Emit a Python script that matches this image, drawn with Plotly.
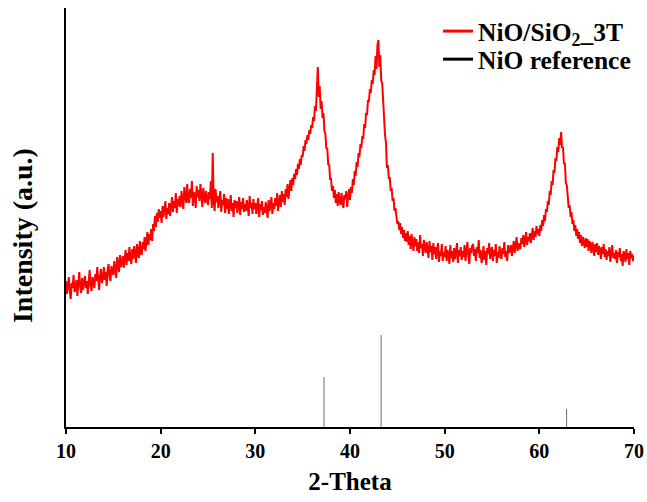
import numpy as np
import plotly.graph_objects as go

# -----------------------------
# DATA
# -----------------------------

# 2-theta grid 10.0 .. 70.0, step 0.1
two_theta = np.round(np.arange(100, 701) / 10.0, 1)

# measured pattern, arbitrary units; one row per degree (d.0 .. d.9)
intensity_rows = [
    [146, 133, 141, 150, 136, 128, 144, 139, 152, 135],  # 10
    [138, 147, 131, 143, 155, 140, 134, 149, 137, 145],  # 11
    [151, 139, 146, 133, 148, 157, 141, 136, 150, 144],  # 12
    [139, 153, 146, 160, 142, 137, 151, 158, 144, 149],  # 13
    [160, 147, 155, 141, 158, 163, 150, 146, 161, 154],  # 14
    [152, 166, 158, 149, 170, 161, 155, 172, 160, 164],  # 15
    [171, 159, 168, 177, 162, 174, 166, 180, 169, 163],  # 16
    [178, 168, 181, 170, 164, 183, 175, 169, 186, 174],  # 17
    [172, 185, 178, 190, 176, 188, 195, 182, 193, 187],  # 18
    [198, 186, 203, 196, 211, 200, 214, 205, 218, 209],  # 19
    [216, 204, 221, 210, 218, 226, 208, 219, 213, 224],  # 20
    [211, 223, 230, 215, 226, 219, 234, 214, 228, 221],  # 21
    [231, 220, 236, 226, 218, 240, 229, 224, 243, 227],  # 22
    [224, 238, 229, 246, 221, 235, 232, 219, 241, 230],  # 23
    [237, 226, 243, 228, 220, 239, 232, 224, 236, 227],  # 24
    [222, 235, 228, 246, 219, 274, 226, 216, 238, 225],  # 25
    [231, 219, 228, 236, 215, 227, 222, 233, 214, 229],  # 26
    [218, 228, 213, 225, 232, 216, 224, 210, 227, 219],  # 27
    [226, 214, 222, 230, 212, 225, 218, 229, 215, 223],  # 28
    [216, 227, 220, 211, 231, 219, 224, 213, 228, 218],  # 29
    [224, 213, 221, 229, 210, 223, 217, 226, 212, 220],  # 30
    [214, 225, 218, 209, 227, 216, 222, 230, 213, 224],  # 31
    [218, 229, 221, 234, 216, 227, 232, 220, 236, 225],  # 32
    [233, 222, 238, 230, 243, 228, 240, 247, 236, 249],  # 33
    [242, 253, 248, 258, 252, 263, 258, 268, 262, 272],  # 34
    [270, 281, 276, 287, 283, 292, 287, 297, 293, 302],  # 35
    [299, 310, 306, 321, 316, 336, 360, 330, 341, 318],  # 36
    [326, 309, 314, 296, 293, 278, 279, 262, 263, 248],  # 37
    [248, 236, 241, 229, 237, 224, 233, 221, 235, 226],  # 38
    [222, 234, 226, 219, 232, 228, 236, 220, 230, 238],  # 39
    [227, 240, 234, 248, 242, 256, 251, 265, 260, 274],  # 40
    [270, 283, 279, 291, 288, 303, 299, 314, 312, 327],  # 41
    [325, 338, 334, 347, 343, 357, 352, 371, 358, 382],  # 42
    [387, 360, 372, 346, 344, 323, 318, 292, 284, 259],  # 43
    [262, 248, 250, 236, 239, 226, 229, 216, 219, 208],  # 44
    [203, 206, 197, 204, 193, 200, 189, 197, 186, 194],  # 45
    [185, 196, 182, 191, 178, 193, 184, 176, 190, 181],  # 46
    [188, 176, 185, 174, 192, 179, 183, 171, 187, 178],  # 47
    [174, 185, 177, 169, 186, 175, 181, 167, 184, 173],  # 48
    [180, 168, 177, 184, 165, 176, 171, 183, 166, 175],  # 49
    [170, 181, 166, 177, 172, 163, 182, 169, 176, 165],  # 50
    [179, 168, 175, 184, 164, 177, 171, 180, 167, 176],  # 51
    [170, 182, 166, 176, 185, 172, 163, 179, 174, 181],  # 52
    [183, 171, 178, 166, 180, 174, 187, 169, 177, 164],  # 53
    [170, 181, 167, 176, 162, 179, 173, 184, 168, 175],  # 54
    [180, 166, 177, 171, 183, 164, 175, 169, 181, 172],  # 55
    [168, 179, 173, 185, 170, 176, 166, 182, 174, 178],  # 56
    [182, 171, 179, 186, 174, 181, 190, 176, 184, 179],  # 57
    [178, 189, 183, 192, 180, 187, 195, 182, 190, 186],  # 58
    [194, 184, 191, 199, 187, 196, 190, 201, 193, 198],  # 59
    [191, 202, 196, 207, 201, 212, 206, 218, 215, 226],  # 60
    [222, 236, 232, 246, 242, 257, 254, 269, 266, 280],  # 61
    [275, 289, 282, 295, 279, 280, 263, 264, 244, 242],  # 62
    [231, 219, 222, 210, 215, 203, 207, 196, 202, 191],  # 63
    [198, 188, 195, 184, 192, 181, 190, 186, 179, 189],  # 64
    [180, 188, 176, 186, 182, 174, 185, 179, 171, 183],  # 65
    [175, 184, 172, 181, 177, 168, 180, 173, 183, 170],  # 66
    [178, 167, 176, 171, 180, 165, 175, 182, 169, 174],  # 67
    [168, 177, 164, 175, 170, 179, 166, 173, 161, 176],  # 68
    [172, 165, 178, 168, 174, 162, 176, 169, 173, 166],  # 69
    [171],                                               # 70
]
intensity = [v for row in intensity_rows for v in row]

# NiO reference pattern (stick positions and heights)
ref_positions = [37.25, 43.29, 62.88]
ref_heights = [50, 92, 18]

x_ticks = [10, 20, 30, 40, 50, 60, 70]

# -----------------------------
# FIGURE
# -----------------------------

FONT = "Liberation Serif, Times New Roman, serif"

fig = go.Figure()

fig.add_trace(go.Scatter(
    x=two_theta,
    y=intensity,
    mode="lines",
    line=dict(color="#ff0000", width=2),
    showlegend=False,
))

# stick pattern, one segment per reflection
stick_x, stick_y = [], []
for p, h in zip(ref_positions, ref_heights):
    stick_x += [p, p, None]
    stick_y += [0, h, None]

fig.add_trace(go.Scatter(
    x=stick_x,
    y=stick_y,
    mode="lines",
    line=dict(color="#6e6e6e", width=1),
    showlegend=False,
))

# legend entries (thicker swatches as in the original), one legend box each
fig.add_trace(go.Scatter(
    x=[None], y=[None], mode="lines",
    line=dict(color="#ff0000", width=3),
    name="<b>NiO/SiO<sub>2</sub>_3T</b>",
    legend="legend",
))
fig.add_trace(go.Scatter(
    x=[None], y=[None], mode="lines",
    line=dict(color="#000000", width=3),
    name="<b>NiO reference</b>",
    legend="legend2",
))

legend_style = dict(
    xanchor="left", yanchor="top",
    bgcolor="rgba(0,0,0,0)",
    font=dict(size=25.5, family=FONT),
)

fig.update_layout(
    width=647,
    height=502,
    paper_bgcolor="white",
    plot_bgcolor="white",
    margin=dict(l=66, r=13, t=8, b=75, autoexpand=False),
    font=dict(family=FONT, color="black"),
    legend=dict(x=0.655, y=1.0, **legend_style),
    legend2=dict(x=0.655, y=0.933, **legend_style),
    xaxis=dict(
        range=[10, 70],
        tickvals=x_ticks,
        ticktext=[f"<b>{t}</b>" for t in x_ticks],
        ticks="outside",
        ticklen=5,
        tickwidth=1.5,
        tickcolor="black",
        tickfont=dict(size=20, family=FONT),
        showline=True,
        linecolor="black",
        linewidth=1.5,
        showgrid=False,
        zeroline=False,
        automargin=False,
        title=dict(text="<b>2-Theta</b>", font=dict(size=25, family=FONT), standoff=12),
    ),
    yaxis=dict(
        range=[0, 419],
        showticklabels=False,
        ticks="",
        showline=True,
        linecolor="black",
        linewidth=1.5,
        showgrid=False,
        zeroline=False,
        automargin=False,
    ),
    annotations=[dict(
        text="<b>Intensity (a.u.)</b>",
        xref="paper", yref="paper",
        x=-0.0775, y=0.458,
        xanchor="center", yanchor="middle",
        textangle=-90,
        showarrow=False,
        font=dict(size=28, family=FONT),
    )],
)

# drop the page's default body margin so the figure fills the window exactly
fig.write_html(
    "out.html",
    config={"displayModeBar": False},
    post_script="document.body.style.margin = '0';",
)
